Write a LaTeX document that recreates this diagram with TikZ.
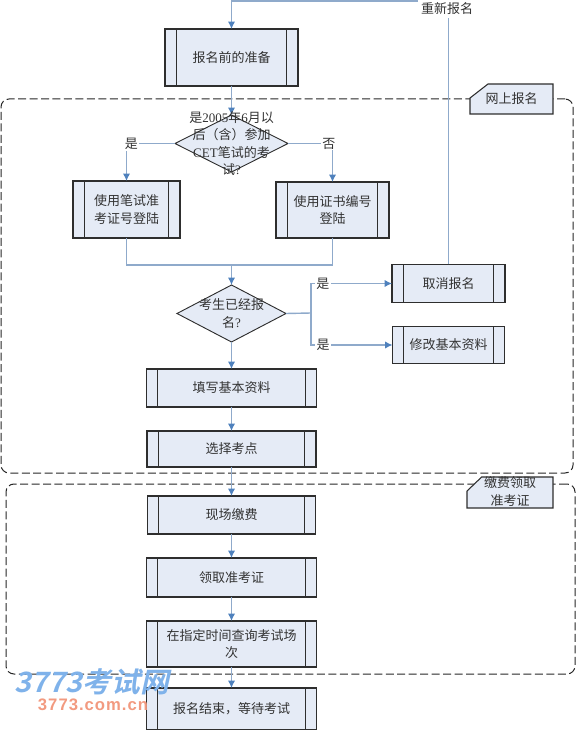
\documentclass[tikz,border=0pt]{standalone}
\usepackage{fontspec}
\usepackage{xcolor}
\usepackage{tikz}
\usetikzlibrary{positioning,arrows.meta,shapes.geometric}
\setmainfont{Noto Sans CJK SC}
\newfontfamily\latinfont{Liberation Serif}
\newfontfamily\markfont[FakeSlant=0.22,FakeStretch=1.03]{Noto Sans CJK SC Bold}
\newfontfamily\siteFont[LetterSpace=6]{Liberation Sans Bold}
\definecolor{boxfill}{HTML}{E5EBF6}
\definecolor{flowline}{HTML}{8FAACB}
\definecolor{flowtip}{HTML}{4F81BD}
\definecolor{edgeink}{HTML}{2E2E2E}
\definecolor{textink}{HTML}{333333}
\definecolor{brandblue}{HTML}{7FB2EA}
\definecolor{brandred}{HTML}{F29A80}
\tikzset{
  procbox/.style={draw=edgeink, line width=.8pt, fill=boxfill, inner sep=0pt, outer sep=0pt, align=center, text=textink, font=\fontsize{9.75}{13}\selectfont,
    path picture={\draw[edgeink, line width=.8pt] ([xshift=8.5pt]path picture bounding box.north west) -- ([xshift=8.5pt]path picture bounding box.south west);
      \draw[edgeink, line width=.8pt] ([xshift=-8.5pt]path picture bounding box.north east) -- ([xshift=-8.5pt]path picture bounding box.south east);}},
  decision/.style={draw=edgeink, line width=.7pt, fill=boxfill, diamond, inner sep=0pt, outer sep=0pt, minimum width=#1, minimum height=42.75pt},
  overtext/.style={align=center, inner sep=0pt, text=textink, font=\fontsize{9.75}{13}\selectfont},
  tagarea/.style={inner sep=0pt, outer sep=0pt},
  tagline/.style={draw=edgeink, line width=.8pt, fill=boxfill},
  region/.style={draw=black!85, line width=.75pt, rounded corners=6pt, dash pattern=on 6pt off 2.6pt, inner sep=0pt, outer sep=0pt},
  flowbase/.style={draw=flowline, line width=1.05pt},
  flow/.style={flowbase, -{Latex[length=5.5pt,width=5.5pt,color=flowtip]}},
  edgelabel/.style={fill=white, inner sep=1pt, text=textink, font=\fontsize{9.75}{13}\selectfont}
}
\begin{document}
\begin{tikzpicture}[x=0.75pt, y=-0.75pt]
\useasboundingbox (0,0) rectangle (576,730);
\node[region, minimum width=429pt, minimum height=280.5pt] (online) at (287,286) {};
\node[region, minimum width=426.75pt, minimum height=142.5pt] (paying) at (290.5,579) {};
\node[procbox, minimum width=99.75pt, minimum height=42.75pt] (prep) at (231.5,57.5) {报名前的准备};
\node[decision=84.75pt, below=21.75pt of prep] (first) {};
\node[procbox, minimum width=80.25pt, minimum height=42.75pt, below=6.75pt of first, xshift=-78.75pt] (bypaper) {使用笔试准\\考证号登陆};
\node[procbox, minimum width=84.75pt, minimum height=42pt, below=7.5pt of first, xshift=75.75pt] (bycert) {使用证书编号\\登陆};
\node[decision=81.75pt, below=84.75pt of first] (signed) {};
\node[procbox, minimum width=84.75pt, minimum height=28.5pt, right=79.5pt of signed, yshift=22.5pt] (cancel) {取消报名};
\node[procbox, minimum width=84pt, minimum height=27.75pt, below=18pt of cancel] (modify) {修改基本资料};
\node[procbox, minimum width=127.5pt, minimum height=28.5pt, below=20.25pt of signed] (fillin) {填写基本资料};
\node[procbox, minimum width=126.75pt, minimum height=27pt, below=18pt of fillin] (site) {选择考点};
\node[procbox, minimum width=126pt, minimum height=28.5pt, below=21.75pt of site] (pay) {现场缴费};
\node[procbox, minimum width=127.5pt, minimum height=29.25pt, below=18pt of pay] (ticket) {领取准考证};
\node[procbox, minimum width=127.5pt, minimum height=34.5pt, below=18pt of ticket] (lookup) {在指定时间查询考试场\\次};
\node[procbox, minimum width=127.5pt, minimum height=31.5pt, below=15.75pt of lookup] (done) {报名结束，等待考试};
\node[tagarea, minimum width=62.25pt, minimum height=22.5pt] (onlinetag) at (511.5,99) {};
\node[tagarea, minimum width=64.5pt, minimum height=23.25pt] (paytag) at (510,492.5) {};
\draw[tagline] ([yshift=-10.5pt]onlinetag.north west) -- ([xshift=13.5pt]onlinetag.north west) -- (onlinetag.north east) -- (onlinetag.south east) -- (onlinetag.south west) -- cycle;
\draw[tagline] ([yshift=-10.5pt]paytag.north west) -- ([xshift=11pt]paytag.north west) -- (paytag.north east) -- (paytag.south east) -- (paytag.south west) -- cycle;
\coordinate (merge) at (231.5,265);
\coordinate (split) at (311,313);
\coordinate (topturn) at (448.5,1);
\draw[flow] (prep) -- (first);
\draw[flow] (first.west) -| node[edgelabel, pos=.45] (yesa) {是} (bypaper.north);
\draw[flow] (first.east) -| node[edgelabel, pos=.46] (noa) {否} (bycert.north);
\draw[flowbase] (bypaper.south) |- (merge);
\draw[flowbase] (bycert.south) |- (merge);
\draw[flow] (merge) -- (signed.north);
\draw[flowbase] (signed.east) -- (split);
\draw[flow] (split) |- node[edgelabel, pos=.574] (yesb) {是} (cancel.west);
\draw[flow] (split) |- node[edgelabel, pos=.574] (yesc) {是} (modify.west);
\draw[flow] (signed.south) -- (fillin.north);
\draw[flow] (fillin) -- (site);
\draw[flow] (site) -- (pay);
\draw[flow] (pay) -- (ticket);
\draw[flow] (ticket) -- (lookup);
\draw[flow] (lookup) -- (done);
\draw[flow] (cancel.north) -- (topturn) -| (prep.north);
\node[edgelabel, inner sep=2pt] (retry) at (447,9) {重新报名};
\node[overtext] (firsttext) at (first) {是{\latinfont 2005}年{\latinfont 6}月以\\后（含）参加\\{\latinfont CET}笔试的考\\试{\latinfont ?}};
\node[overtext] (signedtext) at (signed) {考生已经报\\名{\latinfont ?}};
\node[overtext] (onlinetext) at (onlinetag) {网上报名};
\node[overtext] (paytext) at (510,491.5) {缴费领取\\准考证};
\node[inner sep=0pt, text=brandblue, font=\fontsize{21}{21}\markfont] (brand) at (92,682) {3773考试网};
\node[inner sep=0pt, text=brandred, font=\fontsize{12.5}{12.5}\siteFont] (brandsite) at (93,705) {3773.com.cn};
\end{tikzpicture}
\end{document}
